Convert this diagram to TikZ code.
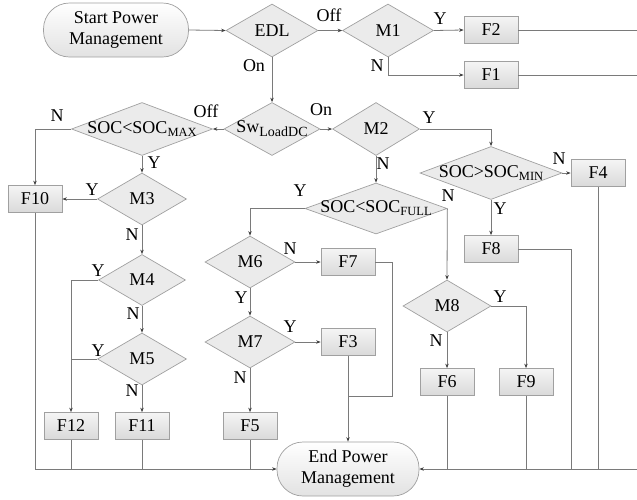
\documentclass[tikz,border=0pt]{standalone}
\usepackage{fontspec}
\setmainfont{Liberation Serif}
\usetikzlibrary{arrows.meta,shapes.geometric}
\newcommand{\mysub}[2][-3pt]{\raisebox{#1}{\fontsize{12.5}{13}\selectfont #2}}
\definecolor{ln}{HTML}{7A7A7A}
\definecolor{tip}{HTML}{404040}
\definecolor{bd}{HTML}{A0A0A0}
\definecolor{boxtop}{HTML}{F4F4F4}
\definecolor{boxbot}{HTML}{DADADA}
\definecolor{decfill}{HTML}{EBEBEB}
\definecolor{termbot}{HTML}{E2E2E2}
\begin{document}
\begin{tikzpicture}[x=1pt,y=-1pt,font=\fontsize{18}{21}\selectfont,
 box/.style={draw=bd,line width=0.7pt,top color=boxtop,bottom color=boxbot,minimum width=54pt,minimum height=27pt,inner sep=0pt},
 dec/.style={diamond,draw=bd,line width=0.7pt,fill=decfill,inner sep=0pt},
 term/.style={draw=bd,line width=0.7pt,rounded corners=26pt,top color=white,bottom color=termbot,minimum width=145pt,minimum height=54pt,align=center,inner sep=0pt},
 conn/.style={draw=ln,line width=0.8pt},
 arr/.style={conn,-{Stealth[length=4.5pt,width=3.5pt,color=tip]}},
 lbl/.style={inner sep=0pt}]
\useasboundingbox (0,0) rectangle (637,499);
% terminals
\node[term] (start) at (116,30) {Start Power\\Management};
\node[term,minimum width=142pt] (end) at (348,469) {End Power\\Management};
% decisions
\node[dec,minimum width=92pt,minimum height=53pt,label={[lbl]center:EDL}] (edl) at (272,30.5) {};
\node[dec,minimum width=91pt,minimum height=53pt,label={[lbl]center:M1}] (m1) at (388,30.5) {};
\node[dec,minimum width=96pt,minimum height=53pt,label={[lbl]center:Sw\mysub[-4pt]{\fontsize{14}{14}\selectfont LoadDC}}] (sw) at (272,129) {};
\node[dec,minimum width=87pt,minimum height=53pt,label={[lbl]center:M2}] (m2) at (376,129) {};
\node[dec,minimum width=142pt,minimum height=53pt,label={[lbl]center:SOC>SOC\mysub{MIN}}] (socmin) at (491,173) {};
\node[dec,minimum width=142pt,minimum height=51pt,label={[lbl]center:SOC<SOC\mysub{FULL}}] (socfull) at (376,208.5) {};
\node[dec,minimum width=141pt,minimum height=53pt,label={[lbl]center:SOC<SOC\mysub{MAX}}] (socmax) at (142,129) {};
\node[dec,minimum width=89pt,minimum height=52pt,label={[lbl]center:M3}] (m3) at (142,199) {};
\node[dec,minimum width=87pt,minimum height=51pt,label={[lbl]center:M4}] (m4) at (142,280) {};
\node[dec,minimum width=89pt,minimum height=52pt,label={[lbl]center:M5}] (m5) at (142,359) {};
\node[dec,minimum width=90pt,minimum height=52pt,label={[lbl]center:M6}] (m6) at (250,262) {};
\node[dec,minimum width=90pt,minimum height=52pt,label={[lbl]center:M7}] (m7) at (250,342) {};
\node[dec,minimum width=88pt,minimum height=52pt,label={[lbl]center:M8}] (m8) at (447,306) {};
% boxes
\node[box] (f2) at (491,30) {F2};
\node[box] (f1) at (491,75) {F1};
\node[box] (f4) at (598,173) {F4};
\node[box] (f8) at (491,249) {F8};
\node[box] (f7) at (348,262) {F7};
\node[box] (f3) at (348,342) {F3};
\node[box] (f5) at (250,426) {F5};
\node[box] (f6) at (447,382) {F6};
\node[box] (f9) at (526,382) {F9};
\node[box] (f10) at (35,199) {F10};
\node[box] (f12) at (71,426) {F12};
\node[box] (f11) at (142,426) {F11};
% free ends
\coordinate (r2) at (637,30);
\coordinate (r1) at (637,75);
\coordinate (rb) at (637,469);
\coordinate (j8) at (571,249);
\coordinate (j7) at (392,262);
\coordinate (j3) at (392,396);
% connectors
\draw[arr] (start.east) -- (edl.west);
\draw[arr] (edl.east) -- (m1.west);
\draw[arr] (edl.south) -- (sw.north);
\draw[arr] (m1.east) -- (f2.west);
\draw[arr] (m1.south) |- (f1.west);
\draw[conn] (f2.east) -- (r2);
\draw[conn] (f1.east) -- (r1);
\draw[arr] (sw.west) -- (socmax.east);
\draw[arr] (sw.east) -- (m2.west);
\draw[arr] (m2.east) -| (socmin.north);
\draw[arr] (m2.south) -- (socfull.north);
\draw[arr] (socmin.east) -- (f4.west);
\draw[arr] (socmin.south) -- (f8.north);
\draw[arr] (socfull.west) -| (m6.north);
\draw[arr] (socfull.east) -- (m8.north);
\draw[arr] (m8.east) -| (f9.north);
\draw[arr] (m8.south) -- (f6.north);
\draw[arr] (m6.east) -- (f7.west);
\draw[arr] (m6.south) -- (m7.north);
\draw[arr] (m7.east) -- (f3.west);
\draw[arr] (m7.south) -- (f5.north);
\draw[conn] (f7.east) -- (j7) -- (j3) -- (f3.south |- j3);
\draw[arr] (f3.south) -- (end.north);
\draw[arr] (socmax.west) -| (f10.north);
\draw[arr] (socmax.south) -- (m3.north);
\draw[arr] (m3.west) -- (f10.east);
\draw[arr] (m3.south) -- (m4.north);
\draw[arr] (m4.west) -| (f12.north);
\draw[arr] (m4.south) -- (m5.north);
\draw[conn] (m5.west) -- (f12.north |- m5.west);
\draw[arr] (m5.south) -- (f11.north);
\draw[arr] (f10.south) |- (end.west);
\draw[conn] (f12.south) -- (f12.south |- end.west);
\draw[conn] (f11.south) -- (f11.south |- end.west);
\draw[conn] (f5.south) -- (f5.south |- end.west);
\draw[arr] (rb) -- (end.east);
\draw[conn] (f6.south) -- (f6.south |- end.east);
\draw[conn] (f9.south) -- (f9.south |- end.east);
\draw[conn] (f8.east) -- (j8) -- (j8 |- end.east);
\draw[conn] (f4.south) -- (f4.south |- end.east);
% edge labels
\node[lbl] (l1) at (329,15) {Off};
\node[lbl] (l2) at (254,66) {On};
\node[lbl] (l3) at (206,111) {Off};
\node[lbl] (l4) at (321,110) {On};
\node[lbl] (l5) at (440,19) {Y};
\node[lbl] (l6) at (377,66) {N};
\node[lbl] (l7) at (429,118) {Y};
\node[lbl] (l8) at (383,164) {N};
\node[lbl] (l9) at (559,159) {N};
\node[lbl] (l10) at (500,209) {Y};
\node[lbl] (l11) at (448,196) {N};
\node[lbl] (l12) at (300,191) {Y};
\node[lbl] (l13) at (500,297) {Y};
\node[lbl] (l14) at (436,341) {N};
\node[lbl] (l15) at (57,116) {N};
\node[lbl] (l16) at (154,163) {Y};
\node[lbl] (l17) at (92,190) {Y};
\node[lbl] (l18) at (132,235) {N};
\node[lbl] (l19) at (98,271) {Y};
\node[lbl] (l20) at (133,314) {N};
\node[lbl] (l21) at (98,351) {Y};
\node[lbl] (l22) at (132,391) {N};
\node[lbl] (l23) at (290,249) {N};
\node[lbl] (l24) at (241,298) {Y};
\node[lbl] (l25) at (290,327) {Y};
\node[lbl] (l26) at (240,378) {N};
\end{tikzpicture}
\end{document}
